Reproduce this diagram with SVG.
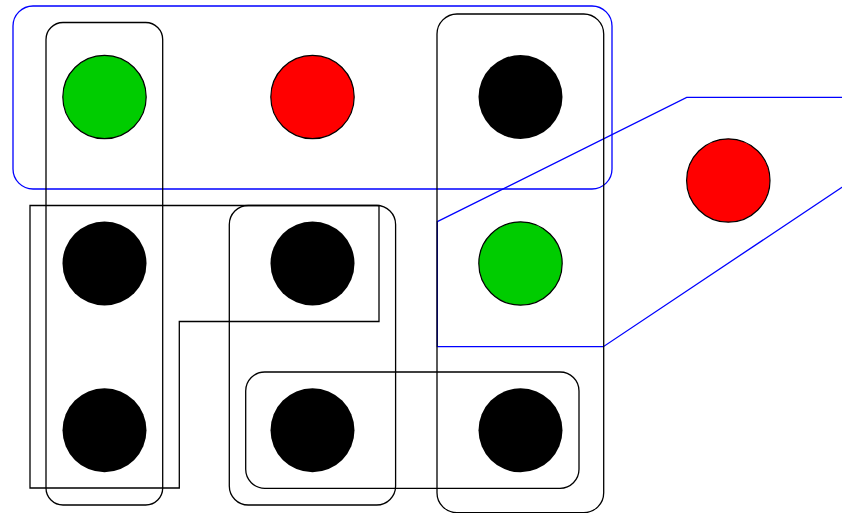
<svg xmlns="http://www.w3.org/2000/svg" width="842" height="513" viewBox="0 0 842 513">
<style>
.grp{fill:none;stroke:#000;stroke-width:1.3}
.hull{fill:none;stroke:#0000ff;stroke-width:1.3}
.blk{fill:#000}
.grn{fill:#00cc00;stroke:#000;stroke-width:1.2}
.red{fill:#ff0000;stroke:#000;stroke-width:1.2}
</style>
<rect width="842" height="513" fill="#fff"/>
<g id="connectors">
<rect id="hull-top" class="hull" x="13" y="6" width="599" height="183" rx="20" ry="20"/>
<path id="hull-right" class="hull" d="M437.3,221.7 L686.7,97.3 L900,97.3 L900,148.5 L603.3,346.7 L437.3,346.7 Z"/>
<rect id="grp-col1" class="grp" x="46" y="22.5" width="116.7" height="482.5" rx="17" ry="17"/>
<path id="grp-L" class="grp" d="M30,205.5 H379 V321.5 H179.3 V488 H30 Z"/>
<rect id="grp-col2" class="grp" x="229.3" y="205.5" width="166.3" height="299.5" rx="19" ry="19"/>
<rect id="grp-row3" class="grp" x="245.7" y="372" width="333.3" height="116.3" rx="19" ry="19"/>
<rect id="grp-col3" class="grp" x="437" y="14" width="166.7" height="498.7" rx="20" ry="20"/>
</g>
<g id="n1"><circle class="grn" cx="104.5" cy="97" r="41.7"/></g>
<g id="n2"><circle class="red" cx="312.5" cy="97" r="41.7"/></g>
<g id="n3"><circle class="blk" cx="520.5" cy="97" r="42"/></g>
<g id="n4"><circle class="blk" cx="104.5" cy="263.5" r="42"/></g>
<g id="n5"><circle class="blk" cx="312.5" cy="263.5" r="42"/></g>
<g id="n6"><circle class="grn" cx="520.5" cy="263.5" r="41.7"/></g>
<g id="n7"><circle class="blk" cx="104.5" cy="430.3" r="42"/></g>
<g id="n8"><circle class="blk" cx="312.5" cy="430.3" r="42"/></g>
<g id="n9"><circle class="blk" cx="520.5" cy="430.3" r="42"/></g>
<g id="n10"><circle class="red" cx="728.3" cy="180.5" r="41.7"/></g>
</svg>
